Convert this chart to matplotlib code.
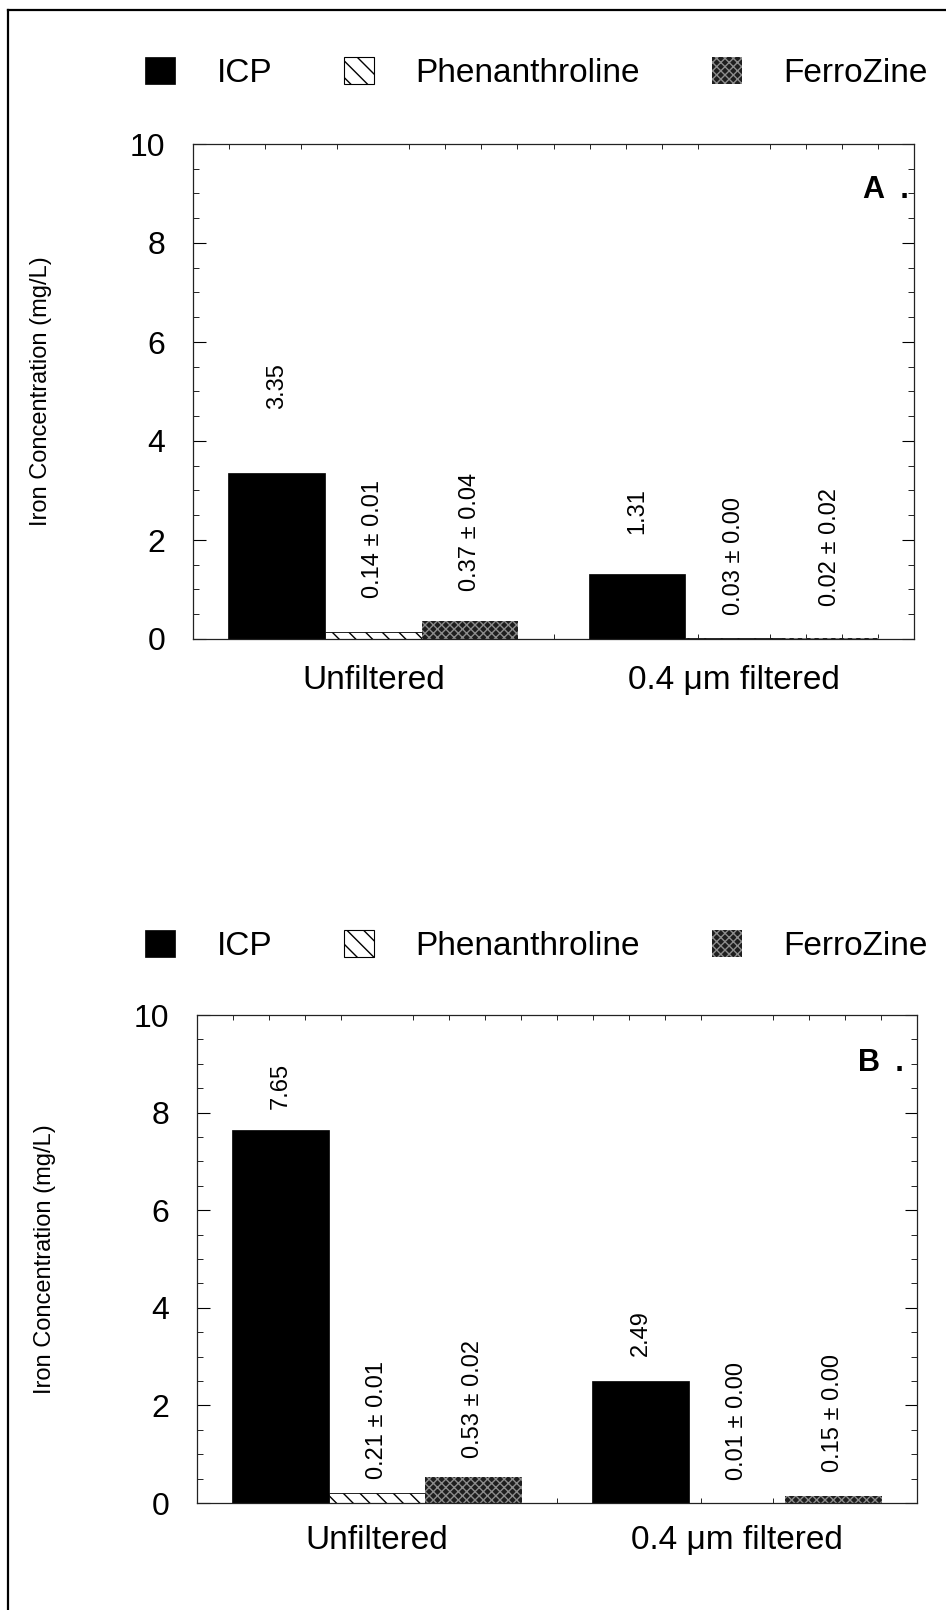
import matplotlib
matplotlib.use('Agg')
import matplotlib.pyplot as plt
import numpy as np
from matplotlib.patches import Patch
from matplotlib.lines import Line2D
from matplotlib.ticker import MultipleLocator

plt.rcParams['font.family'] = ['Liberation Sans', 'DejaVu Sans']
plt.rcParams['hatch.linewidth'] = 1.0

# ---------------- data ----------------
categories = ['Unfiltered', '0.4 \u03bcm filtered']
methods = ['ICP', 'Phenanthroline', 'FerroZine']

a_icp = [3.35, 1.31]
a_phen = [0.14, 0.03]
a_phen_sd = [0.01, 0.00]
a_ferro = [0.37, 0.02]
a_ferro_sd = [0.04, 0.02]

b_icp = [7.65, 2.49]
b_phen = [0.21, 0.01]
b_phen_sd = [0.01, 0.00]
b_ferro = [0.53, 0.15]
b_ferro_sd = [0.02, 0.00]

y_ticks = [0, 2, 4, 6, 8, 10]

# ---------------- layout / style ----------------
W, H = 946, 1610
fig = plt.figure(figsize=(W / 100, H / 100), dpi=100)

styles = [
    dict(facecolor='black', edgecolor='black', linewidth=0.5),
    dict(facecolor='white', edgecolor='black', hatch='\\\\', linewidth=0.6),
    dict(facecolor='#1e1e1e', edgecolor='#8c8c8c', hatch='xxxx', linewidth=0.0),
]

# label offsets above bar tops, in pixels [method][category]
offsets_a = [[64, 40], [34, 23], [30, 32]]
offsets_b = [[21, 25], [14, 23], [19, 24]]

bar_w = 0.268


def px(v):
    return v * 72.0 / 100.0


def draw_panel(rect, icp, phen, phen_sd, ferro, ferro_sd, offsets, tag, tag_xy,
               legend_y, xpad):
    ax = fig.add_axes(rect)
    x = np.arange(len(categories))
    series = [icp, phen, ferro]
    sds = [None, phen_sd, ferro_sd]
    for i, (vals, st) in enumerate(zip(series, styles)):
        xs = x + (i - 1) * bar_w
        ax.bar(xs, vals, width=bar_w, label=methods[i], **st)
        for j, v in enumerate(vals):
            if sds[i] is None:
                txt = f'{v:.2f}'
            else:
                txt = f'{v:.2f} \u00b1 {sds[i][j]:.2f}'
            ax.annotate(txt, xy=(xs[j], v), xytext=(0, px(offsets[i][j])),
                        textcoords='offset points', rotation=90,
                        ha='center', va='bottom', fontsize=17)
    ax.set_xlim(-0.5, 1.5)
    ax.set_ylim(0, 10)
    ax.set_axisbelow(True)
    ax.set_xticks(x)
    ax.set_xticklabels(categories, fontsize=24)
    ax.xaxis.set_minor_locator(MultipleLocator(0.1))
    ax.set_yticks(y_ticks)
    ax.set_yticklabels([str(t) for t in y_ticks], fontsize=23)
    ax.yaxis.set_minor_locator(MultipleLocator(0.5))
    ax.tick_params(axis='x', which='major', length=0, pad=xpad)
    ax.tick_params(axis='x', which='minor', direction='in', length=3.5,
                   width=0.6, top=True, bottom=True)
    ax.tick_params(axis='y', which='major', direction='in', length=9,
                   width=0.8, left=True, right=True, pad=20)
    ax.tick_params(axis='y', which='minor', direction='in', length=4,
                   width=0.6, left=True, right=True)
    for s in ax.spines.values():
        s.set_linewidth(0.9)
        s.set_color('#222222')
    ax.text(-0.211, 0.5, 'Iron Concentration (mg/L)', transform=ax.transAxes,
            rotation=90, ha='center', va='center', fontsize=17)
    ax.text(tag_xy[0], tag_xy[1], tag, transform=ax.transAxes, ha='right',
            va='top', fontsize=22, fontweight='bold')
    handles = [Patch(label=m, **st) for m, st in zip(methods, styles)]
    handles[1].set_linewidth(0.8)
    ax.legend(handles=handles, loc='center left',
              bbox_to_anchor=(145 / W, legend_y), bbox_transform=fig.transFigure,
              ncol=3, frameon=False, fontsize=24, borderpad=0,
              borderaxespad=0, handlelength=0.9, handleheight=0.87,
              handletextpad=1.25, columnspacing=2.15)
    return ax


draw_panel([193 / W, 1 - 639 / H, 721 / W, 495 / H],
           a_icp, a_phen, a_phen_sd, a_ferro, a_ferro_sd, offsets_a,
           'A\u2002.', (0.993, 0.937), 1 - 73 / H, 19)
draw_panel([197 / W, 1 - 1503 / H, 720 / W, 488 / H],
           b_icp, b_phen, b_phen_sd, b_ferro, b_ferro_sd, offsets_b,
           'B\u2002.', (0.982, 0.932), 1 - 946 / H, 16)

# outer frame (left and top edges)
fig.add_artist(Line2D([8 / W, 8 / W], [0, 1 - 10 / H], transform=fig.transFigure,
                      color='black', linewidth=1.6))
fig.add_artist(Line2D([8 / W, 1], [1 - 10 / H, 1 - 10 / H], transform=fig.transFigure,
                      color='black', linewidth=1.6))

fig.savefig('out.png', dpi=100)
